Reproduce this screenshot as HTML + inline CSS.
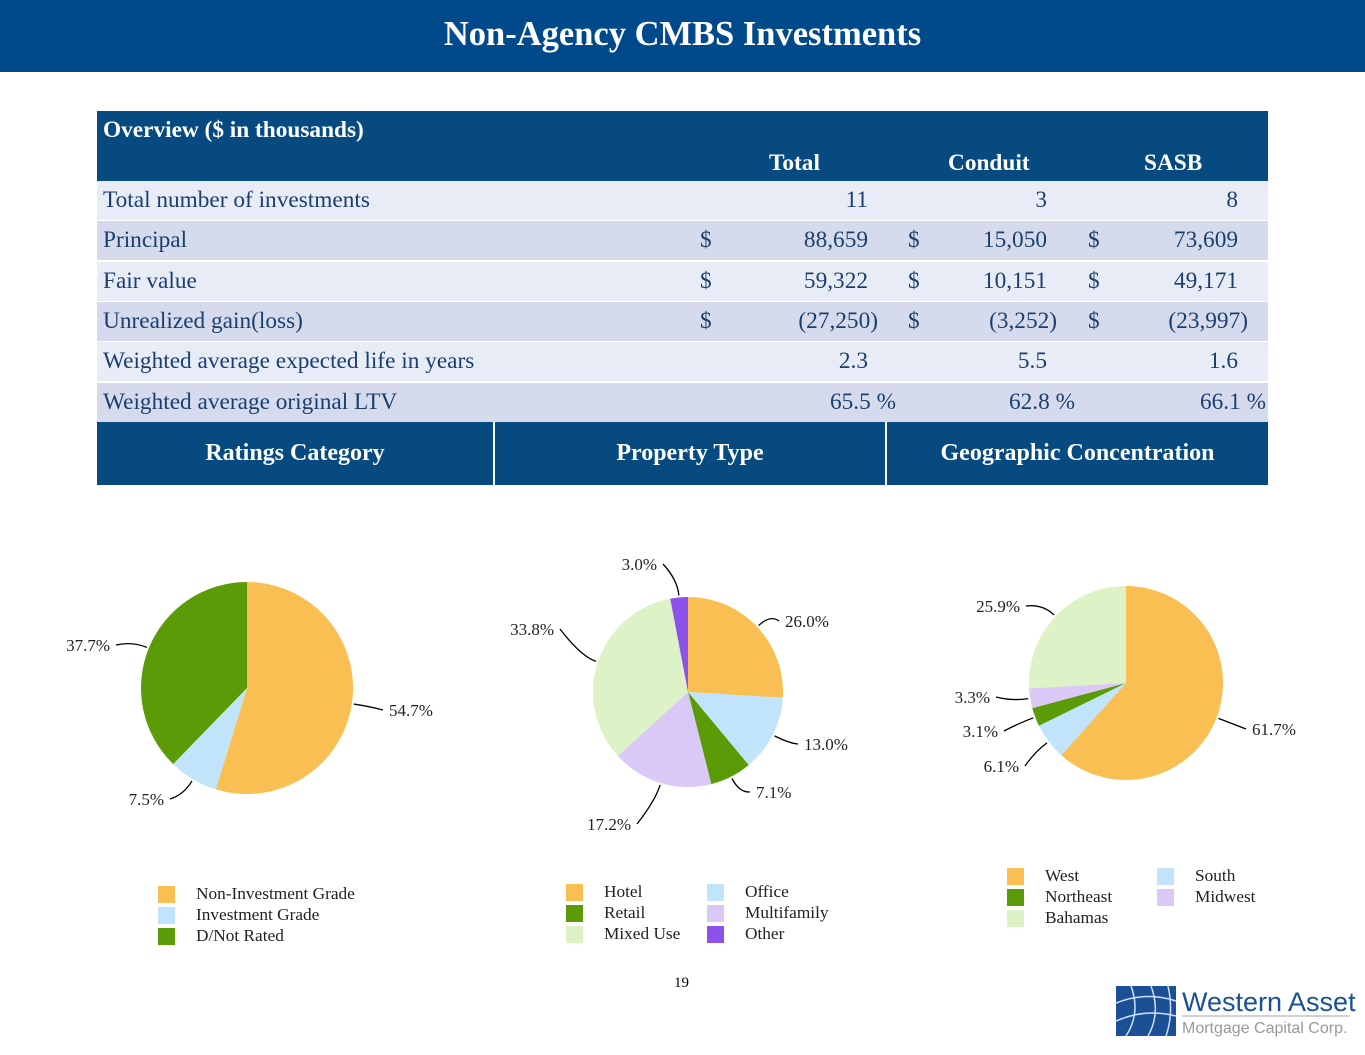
<!DOCTYPE html>
<html><head><meta charset="utf-8">
<style>
body{margin:0;width:1365px;height:1055px;background:#fff;font-family:"Liberation Serif",serif;position:relative;overflow:hidden}
.title{position:absolute;left:0;top:0;width:1365px;height:72px;background:#004a8c;color:#fff;font-weight:bold;font-size:34.5px;text-align:center;line-height:68px}
.tbl{position:absolute;left:97px;top:111px;width:1171px;font-size:23.3px;color:#1a3f6e}
.hd{position:absolute;left:0;top:0;width:1171px;height:70px;background:#064a80;color:#fff;font-weight:bold}
.row{position:absolute;left:0;width:1171px;height:39px;line-height:39px}
.r1{background:#e8ecf6}.r2{background:#d5dbec}
.c{position:absolute;white-space:nowrap}
.n{text-align:right}
.sec{position:absolute;left:97px;top:422px;width:1171px;height:63px;background:#064a80;display:flex;color:#fff;font-weight:bold;font-size:24px}
.sec div{display:flex;align-items:center;justify-content:center;height:100%}
svg text{font-family:"Liberation Serif",serif}
</style></head><body>
<div class="title">Non-Agency CMBS Investments</div>
<div class="tbl">
<div class="hd">
<div class="c" style="left:6px;top:5px;line-height:28px">Overview ($ in thousands)</div>
<div class="c" style="left:672px;top:38px;line-height:28px">Total</div>
<div class="c" style="left:851px;top:38px;line-height:28px">Conduit</div>
<div class="c" style="left:1047px;top:38px;line-height:28px">SASB</div>
</div>
<div id="rows"></div>
</div>
<div class="sec">
<div style="width:396px;border-right:2px solid #fff">Ratings Category</div>
<div style="width:390px;border-right:2px solid #fff">Property Type</div>
<div style="flex:1">Geographic Concentration</div>
</div>
<svg id="charts" width="1365" height="1055" style="position:absolute;left:0;top:0"></svg>
<div style="position:absolute;left:674px;top:975px;font-size:15px">19</div>
<svg style="position:absolute;left:1116px;top:983px" width="240" height="55">
<rect x="0" y="3" width="60" height="50" fill="#1b4f96"/>
<g stroke="#cfe0f5" stroke-width="1.5" fill="none"><path d="M0 20 Q30 8 60 18"/><path d="M0 38 Q30 25 60 33"/><path d="M15 3 Q25 30 10 53"/><path d="M35 3 Q45 30 32 53"/><path d="M52 3 Q58 30 50 53"/></g>
<text x="66" y="28" font-size="27" fill="#1b4f96" style="font-family:'Liberation Sans',sans-serif">Western Asset</text>
<line x1="66" y1="33" x2="234" y2="33" stroke="#9aa" stroke-width="1"/>
<text x="66" y="50" font-size="16" fill="#999" style="font-family:'Liberation Sans',sans-serif">Mortgage Capital Corp.</text>
</svg>
<script>
const rowsData=[
 ["Total number of investments",false,"11","3","8",0],
 ["Principal",true,"88,659","15,050","73,609",0],
 ["Fair value",true,"59,322","10,151","49,171",0],
 ["Unrealized gain(loss)",true,"(27,250)","(3,252)","(23,997)",10],
 ["Weighted average expected life in years",false,"2.3","5.5","1.6",0],
 ["Weighted average original LTV",false,"65.5 %","62.8 %","66.1 %",28]];
const rc=document.getElementById('rows');
const rights=[771,950,1141],dollars=[603,811,991];
rowsData.forEach((r,i)=>{
  const d=document.createElement('div');
  d.className='row '+(i%2?'r2':'r1');
  d.style.top=(70+i*40.3)+'px';
  
  
  let h=`<div class="c" style="left:6px">${r[0]}</div>`;
  for(let k=0;k<3;k++){
    if(r[1])h+=`<div class="c" style="left:${dollars[k]}px">$</div>`;
    h+=`<div class="c n" style="right:${1171-rights[k]-r[5]}px">${r[2+k]}</div>`;
  }
  d.innerHTML=h;rc.appendChild(d);
});
const ratingLabels=["Non-Investment Grade","Investment Grade","D/Not Rated"];
const ratingValues=[54.7,7.5,37.7];
const propLabels=["Hotel","Office","Retail","Multifamily","Mixed Use","Other"];
const propValues=[26.0,13.0,7.1,17.2,33.8,3.0];
const geoLabels=["West","South","Northeast","Midwest","Bahamas"];
const geoValues=[61.7,6.1,3.1,3.3,25.9];
const C={o:"#f9bf52",b:"#c2e4fb",g:"#5b9b07",l:"#dac9f6",p:"#def2c7",v:"#8c52e9"};
const svg=document.getElementById('charts');
const NS="http://www.w3.org/2000/svg";
function mk(t,a){const e=document.createElementNS(NS,t);for(const k in a)e.setAttribute(k,a[k]);svg.appendChild(e);return e;}
function pie(name,cx,cy,r,vals,cols,labOff,legend){
  const tot=vals.reduce((a,b)=>a+b,0);let a0=0;
  vals.forEach((v,i)=>{
    const a1=a0+v/tot*2*Math.PI;
    const p=a=>[cx+r*Math.sin(a),cy-r*Math.cos(a)];
    const s=p(a0),e=p(a1);
    const el=mk('path',{d:`M${cx},${cy}L${s[0]},${s[1]}A${r},${r} 0 ${a1-a0>Math.PI?1:0} 1 ${e[0]},${e[1]}Z`,fill:cols[i]});
    
    
    const m=(a0+a1)/2,sx=Math.sin(m),cy2=-Math.cos(m);
    const x1=cx+(r+2)*sx,y1=cy+(r+2)*cy2,x2=cx+(r+18)*sx,y2=cy+(r+18)*cy2;
    const lx=labOff[i][0],ly=labOff[i][1];
    mk('path',{d:`M${x1},${y1}Q${x2},${y2} ${lx+(sx>0?-6:6)},${ly-6}`,stroke:"#000",fill:"none","stroke-width":1.3});
    const t=mk('text',{x:lx,y:ly,"font-size":17,"text-anchor":sx>0?"start":"end",fill:"#222"});
    t.textContent=v.toFixed(1)+"%";
    
    
    a0=a1;
  });
  legend.forEach(([lab,col,x,y])=>{
    const rr=mk('rect',{x:x,y:y-13,width:17,height:17,fill:col});
    
    
    const t=mk('text',{x:x+38,y:y,"font-size":17.3,fill:"#222"});t.textContent=lab;
    
    
  });
}
pie('ratings',247,688,106,ratingValues,[C.o,C.b,C.g],[[389,716],[164,805],[110,651]],
 [[ratingLabels[0],C.o,158,899],[ratingLabels[1],C.b,158,920],[ratingLabels[2],C.g,158,941]]);
pie('property',688,692,95,propValues,[C.o,C.b,C.g,C.l,C.p,C.v],[[785,627],[804,750],[756,798],[631,830],[554,635],[657,570]],
 [[propLabels[0],C.o,566,897],[propLabels[1],C.b,707,897],[propLabels[2],C.g,566,918],[propLabels[3],C.l,707,918],[propLabels[4],C.p,566,939],[propLabels[5],C.v,707,939]]);
pie('geographic',1126,683,97,geoValues,[C.o,C.b,C.g,C.l,C.p],[[1252,735],[1019,772],[998,737],[990,703],[1020,612]],
 [[geoLabels[0],C.o,1007,881],[geoLabels[1],C.b,1157,881],[geoLabels[2],C.g,1007,902],[geoLabels[3],C.l,1157,902],[geoLabels[4],C.p,1007,923]]);
</script>
</body></html>
